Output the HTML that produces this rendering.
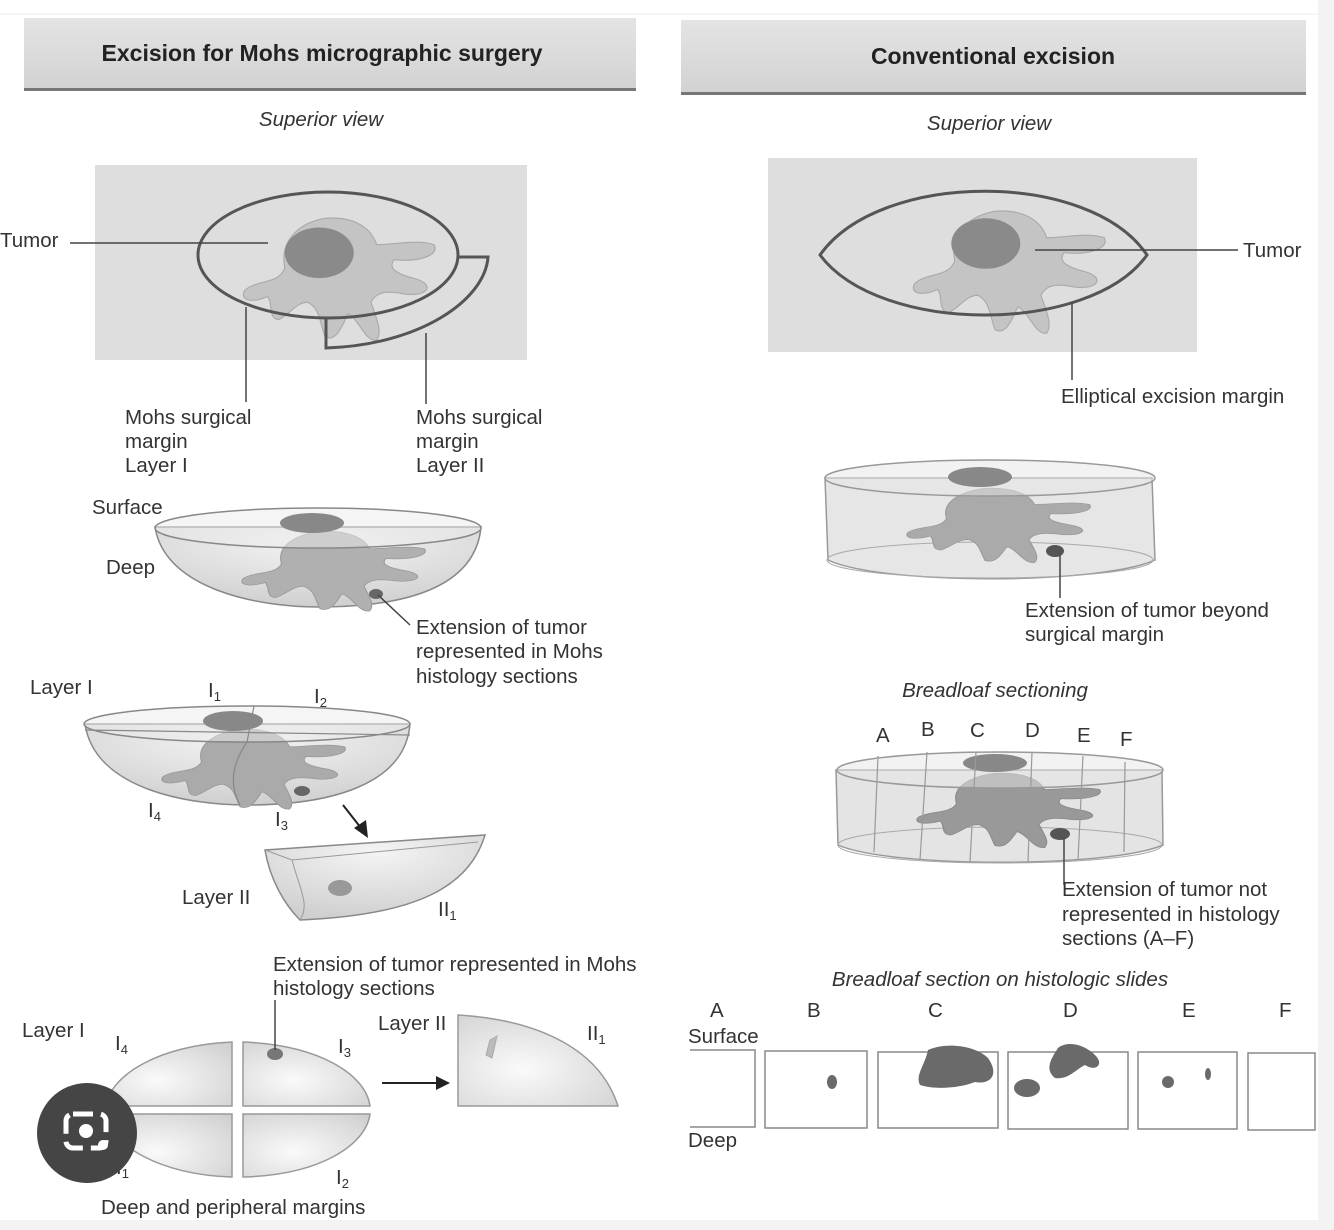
<!DOCTYPE html>
<html><head><meta charset="utf-8"><style>
html,body{margin:0;padding:0;background:#fff;}
svg{display:block;font-family:"Liberation Sans",Arial,sans-serif;}
</style></head><body>
<svg width="1334" height="1230" viewBox="0 0 1334 1230" xmlns="http://www.w3.org/2000/svg">
<defs>
<linearGradient id="hdr" x1="0" y1="0" x2="0" y2="1"><stop offset="0" stop-color="#e4e4e4"/><stop offset="1" stop-color="#d2d2d2"/></linearGradient>
<radialGradient id="bowl" cx="0.5" cy="0.2" r="0.8"><stop offset="0" stop-color="#f4f4f4"/><stop offset="1" stop-color="#cfcfcf"/></radialGradient>
<radialGradient id="qg" cx="0.4" cy="0.6" r="0.8"><stop offset="0" stop-color="#fafafa"/><stop offset="1" stop-color="#d0d0d0"/></radialGradient>
<path id="tum" d="M-70,25 C-60,15 -40,20 -35,5 C-40,-20 -20,-35 0,-38 C25,-40 40,-30 45,-15 C60,-15 80,-20 95,-15 C100,-5 80,0 60,-2 C55,5 60,10 80,15 C95,20 90,30 70,28 C55,25 45,25 40,35 C45,50 50,60 45,68 C35,70 30,50 20,45 C15,55 10,70 0,65 C-5,50 -5,40 -15,35 C-25,35 -30,45 -40,50 C-50,50 -45,35 -50,30 C-60,35 -75,35 -70,25Z"/>
</defs>
<rect x="1318" y="0" width="16" height="1230" fill="#f3f3f3"/>
<rect x="0" y="1220" width="1334" height="10" fill="#f3f3f3"/>
<line x1="0" y1="14" x2="1318" y2="14" stroke="#eee"/>

<rect x="24" y="18" width="612" height="72" fill="url(#hdr)"/>
<rect x="24" y="88" width="612" height="3" fill="#777"/>
<text x="322" y="61" font-size="23" font-weight="bold" text-anchor="middle" fill="#222">Excision for Mohs micrographic surgery</text>
<rect x="681" y="20" width="625" height="73" fill="url(#hdr)"/>
<rect x="681" y="92" width="625" height="3" fill="#777"/>
<text x="993" y="64" font-size="23" font-weight="bold" text-anchor="middle" fill="#222">Conventional excision</text>

<g font-size="20.5" fill="#333">
<text x="321" y="126" font-style="italic" text-anchor="middle">Superior view</text>
<text x="989" y="130" font-style="italic" text-anchor="middle">Superior view</text>

<rect x="95" y="165" width="432" height="195" fill="#dedede"/>
<g transform="translate(325,262) scale(1.15)"><use href="#tum" fill="#c4c4c4" stroke="#aaa"/><ellipse cx="-5" cy="-8" rx="30" ry="22" fill="#8a8a8a"/></g>
<ellipse cx="328" cy="255" rx="130" ry="63" fill="none" stroke="#555" stroke-width="3"/>
<path d="M458,257 L488,257 C485,300 420,345 326,348 L326,319" fill="none" stroke="#555" stroke-width="3"/>
<text x="0" y="247">Tumor</text>
<line x1="70" y1="243" x2="268" y2="243" stroke="#444" stroke-width="1.5"/>
<line x1="246" y1="307" x2="246" y2="402" stroke="#444" stroke-width="1.5"/>
<line x1="426" y1="333" x2="426" y2="404" stroke="#444" stroke-width="1.5"/>
<text x="125" y="424">Mohs surgical</text><text x="125" y="448">margin</text><text x="125" y="472">Layer I</text>
<text x="416" y="424">Mohs surgical</text><text x="416" y="448">margin</text><text x="416" y="472">Layer II</text>

<text x="92" y="514">Surface</text><text x="106" y="574">Deep</text>
<path d="M155,527 C165,590 260,607 318,607 C400,607 475,590 481,527 Z" fill="url(#bowl)" stroke="#888" stroke-width="1.5"/>
<g transform="translate(320,560) scale(1.1,0.75)"><use href="#tum" fill="#b0b0b0" stroke="#999"/></g>
<ellipse cx="318" cy="528" rx="163" ry="20" fill="rgba(235,235,235,0.5)" stroke="#888" stroke-width="1.5"/>
<ellipse cx="312" cy="523" rx="32" ry="10" fill="#888"/>
<ellipse cx="376" cy="594" rx="7" ry="5" fill="#666"/>
<line x1="378" y1="595" x2="410" y2="625" stroke="#444" stroke-width="1.5"/>
<text x="416" y="634">Extension of tumor</text><text x="416" y="658">represented in Mohs</text><text x="416" y="683">histology sections</text>

<text x="30" y="694">Layer I</text>
<text x="208" y="697">I<tspan font-size="13" dy="4">1</tspan></text>
<text x="314" y="703">I<tspan font-size="13" dy="4">2</tspan></text>
<path d="M85,724 C95,790 190,805 247,805 C330,805 405,785 410,724 Z" fill="url(#bowl)" stroke="#888" stroke-width="1.5"/>
<g transform="translate(240,758) scale(1.1,0.75)"><use href="#tum" fill="#aaa" stroke="#999"/></g>
<ellipse cx="247" cy="724" rx="163" ry="18" fill="rgba(235,235,235,0.5)" stroke="#888" stroke-width="1.5"/>
<ellipse cx="233" cy="721" rx="30" ry="10" fill="#888"/>
<path d="M85,730 L410,735 M254,706 L247,742 C228,770 232,790 240,805" fill="none" stroke="#888" stroke-width="1.2"/>
<ellipse cx="302" cy="791" rx="8" ry="5" fill="#666"/>
<text x="148" y="817">I<tspan font-size="13" dy="4">4</tspan></text>
<text x="275" y="826">I<tspan font-size="13" dy="4">3</tspan></text>
<line x1="343" y1="805" x2="361" y2="828" stroke="#222" stroke-width="2"/>
<polygon points="368,838 354,828 366,820" fill="#222"/>
<path d="M265,850 L485,835 C470,885 420,915 300,920 C285,905 270,880 265,850Z" fill="url(#bowl)" stroke="#888" stroke-width="1.5"/>
<path d="M265,850 L292,860 L478,842 M292,860 C300,890 310,905 300,920" fill="none" stroke="#999"/>
<ellipse cx="340" cy="888" rx="12" ry="8" fill="#999"/>
<text x="182" y="904">Layer II</text>
<text x="438" y="916">II<tspan font-size="13" dy="4">1</tspan></text>

<text x="273" y="971">Extension of tumor represented in Mohs</text><text x="273" y="995">histology sections</text>
<text x="22" y="1037">Layer I</text>
<text x="115" y="1050">I<tspan font-size="13" dy="4">4</tspan></text>
<text x="338" y="1053">I<tspan font-size="13" dy="4">3</tspan></text>
<path d="M232,1042 L232,1106 L106,1106 C110,1075 160,1045 232,1042Z" fill="url(#qg)" stroke="#999" stroke-width="1.5"/>
<path d="M243,1042 L243,1106 L370,1106 C366,1075 320,1045 243,1042Z" fill="url(#qg)" stroke="#999" stroke-width="1.5"/>
<path d="M232,1114 L232,1177 C160,1175 110,1145 106,1114Z" fill="url(#qg)" stroke="#999" stroke-width="1.5"/>
<path d="M243,1114 L243,1177 C320,1175 366,1145 370,1114Z" fill="url(#qg)" stroke="#999" stroke-width="1.5"/>
<ellipse cx="275" cy="1054" rx="8" ry="6" fill="#777"/>
<line x1="275" y1="1000" x2="275" y2="1050" stroke="#444" stroke-width="1.5"/>
<text x="378" y="1030">Layer II</text>
<text x="336" y="1184">I<tspan font-size="13" dy="4">2</tspan></text>
<line x1="382" y1="1083" x2="440" y2="1083" stroke="#222" stroke-width="2"/>
<polygon points="450,1083 436,1076 436,1090" fill="#222"/>
<path d="M458,1015 C540,1020 600,1050 618,1106 L458,1106 Z" fill="url(#qg)" stroke="#999" stroke-width="1.5"/>
<path d="M490,1040 L497,1036 L492,1058 L486,1055Z" fill="#bbb" stroke="#aaa"/>
<text x="587" y="1040">II<tspan font-size="13" dy="4">1</tspan></text>
<text x="101" y="1214">Deep and peripheral margins</text>
<text x="116" y="1174">I<tspan font-size="13" dy="4">1</tspan></text>
<circle cx="87" cy="1133" r="50" fill="#454545"/>
<rect x="66" y="1114" width="40" height="34" rx="7" fill="none" stroke="#fff" stroke-width="5" stroke-dasharray="20 8"/>
<circle cx="86" cy="1131" r="7" fill="#fff"/><circle cx="103" cy="1145" r="5" fill="#fff"/>

<rect x="768" y="158" width="429" height="194" fill="#dedede"/>
<g transform="translate(995,255) scale(1.15)"><use href="#tum" fill="#c4c4c4" stroke="#aaa"/><ellipse cx="-8" cy="-10" rx="30" ry="22" fill="#8a8a8a"/></g>
<path d="M820,255 C880,170 1090,170 1147,255 C1090,335 880,335 820,255Z" fill="none" stroke="#555" stroke-width="3"/>
<line x1="1035" y1="250" x2="1238" y2="250" stroke="#444" stroke-width="1.5"/>
<text x="1243" y="257">Tumor</text>
<line x1="1072" y1="302" x2="1072" y2="380" stroke="#444" stroke-width="1.5"/>
<text x="1061" y="403">Elliptical excision margin</text>

<path d="M825,478 L828,560 C880,585 1100,585 1155,560 L1152,478 Z" fill="#e6e6e6" stroke="#999" stroke-width="1.5"/>
<ellipse cx="990" cy="560" rx="163" ry="18" fill="none" stroke="#aaa"/>
<g transform="translate(985,515) scale(1.1,0.7)"><use href="#tum" fill="#aaa" stroke="#999"/></g>
<ellipse cx="990" cy="478" rx="165" ry="18" fill="rgba(230,230,230,0.5)" stroke="#999" stroke-width="1.5"/>
<ellipse cx="980" cy="477" rx="32" ry="10" fill="#888"/>
<ellipse cx="1055" cy="551" rx="9" ry="6" fill="#555"/>
<line x1="1060" y1="555" x2="1060" y2="598" stroke="#444" stroke-width="1.5"/>
<text x="1025" y="617">Extension of tumor beyond</text><text x="1025" y="641">surgical margin</text>

<text x="995" y="697" font-style="italic" text-anchor="middle">Breadloaf sectioning</text>
<text x="876" y="742">A</text><text x="921" y="736">B</text><text x="970" y="737">C</text><text x="1025" y="737">D</text><text x="1077" y="742">E</text><text x="1120" y="746">F</text>
<path d="M836,770 L838,845 C890,868 1110,868 1163,845 L1162,770 Z" fill="#e4e4e4" stroke="#999" stroke-width="1.5"/>
<ellipse cx="1000" cy="845" rx="162" ry="18" fill="none" stroke="#aaa"/>
<g transform="translate(995,800) scale(1.1,0.7)"><use href="#tum" fill="#999" stroke="#888"/></g>
<ellipse cx="1000" cy="770" rx="163" ry="18" fill="rgba(230,230,230,0.5)" stroke="#999" stroke-width="1.5"/>
<ellipse cx="995" cy="763" rx="32" ry="9" fill="#888"/>
<g stroke="#999" stroke-width="1.2" fill="none">
<path d="M878,756 L874,852"/><path d="M927,752 L920,860"/><path d="M976,752 L970,862"/><path d="M1032,752 L1028,862"/><path d="M1083,756 L1078,860"/><path d="M1125,762 L1124,852"/>
</g>
<ellipse cx="1060" cy="834" rx="10" ry="6" fill="#555"/>
<line x1="1064" y1="838" x2="1064" y2="885" stroke="#444" stroke-width="1.5"/>
<text x="1062" y="896">Extension of tumor not</text><text x="1062" y="921">represented in histology</text><text x="1062" y="945">sections (A–F)</text>

<text x="1000" y="986" font-style="italic" text-anchor="middle">Breadloaf section on histologic slides</text>
<text x="710" y="1017">A</text><text x="807" y="1017">B</text><text x="928" y="1017">C</text><text x="1063" y="1017">D</text><text x="1182" y="1017">E</text><text x="1279" y="1017">F</text>
<text x="688" y="1043">Surface</text><text x="688" y="1147">Deep</text>
<g fill="#fff" stroke="#888" stroke-width="1.5">
<path d="M690,1050 L755,1050 L755,1127 L690,1127"/>
<rect x="765" y="1051" width="102" height="77"/>
<rect x="878" y="1052" width="120" height="76"/>
<rect x="1008" y="1052" width="120" height="77"/>
<rect x="1138" y="1052" width="99" height="77"/>
<rect x="1248" y="1053" width="67" height="77"/>
</g>
<g fill="#6a6a6a">
<ellipse cx="832" cy="1082" rx="5" ry="7"/>
<path d="M928,1050 C945,1042 975,1045 988,1058 C1000,1075 990,1085 975,1082 C960,1088 935,1090 920,1085 C915,1075 925,1065 928,1050Z"/>
<path d="M1058,1048 C1068,1040 1085,1045 1095,1055 C1105,1065 1095,1072 1085,1065 C1075,1070 1068,1080 1055,1078 C1045,1070 1050,1060 1058,1048Z"/>
<ellipse cx="1027" cy="1088" rx="13" ry="9"/>
<circle cx="1168" cy="1082" r="6"/><ellipse cx="1208" cy="1074" rx="3" ry="6"/>
</g>
</g>
</svg>
</body></html>
